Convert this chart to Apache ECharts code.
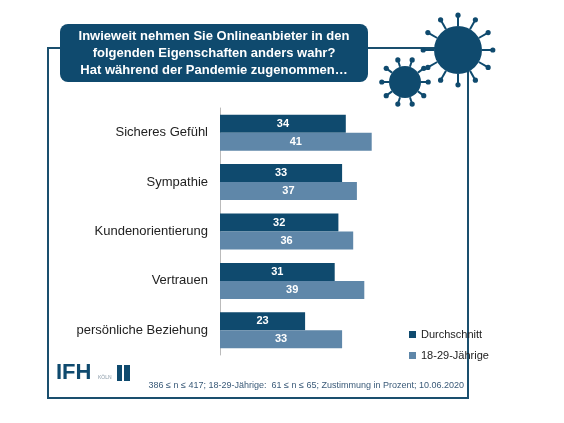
<!DOCTYPE html>
<html>
<head>
<meta charset="utf-8">
<script src="https://cdn.jsdelivr.net/npm/echarts@6/dist/echarts.min.js"></script>
<style>html,body{margin:0;background:#fff}#c{width:564px;height:423px}</style>
</head>
<body>
<div id="c"></div>
<script>
// Kategorien und Werte
const categories = ['Sicheres Gefühl', 'Sympathie', 'Kundenorientierung', 'Vertrauen', 'persönliche Beziehung']
const durchschnitt = [34, 33, 32, 31, 23]
const jung = [41, 37, 36, 39, 33]

const dark = '#0f4a6e', light = '#5f87a9'

// Virus-Deko
function virus(cx, cy, r, n) {
  let els = []
  for (let i = 0; i < n; i++) {
    let a = (i / n) * Math.PI * 2
    let x1 = cx + Math.cos(a) * r, y1 = cy + Math.sin(a) * r
    let x2 = cx + Math.cos(a) * (r * 1.45), y2 = cy + Math.sin(a) * (r * 1.45)
    els.push({ type: 'line', shape: { x1, y1, x2, y2 }, style: { stroke: dark, lineWidth: 2 } })
    els.push({ type: 'circle', shape: { cx: x2, cy: y2, r: 2.6 }, style: { fill: dark } })
  }
  els.push({ type: 'circle', shape: { cx, cy, r }, style: { fill: dark } })
  return els
}

const chart = echarts.init(document.getElementById('c'))
chart.setOption({
  animation: false,
  graphic: [
    { type: 'rect', shape: { x: 48, y: 48, width: 420, height: 350 }, style: { fill: 'none', stroke: '#1a4f6e', lineWidth: 2 } },
    { type: 'rect', shape: { x: 60, y: 24, width: 308, height: 58, r: 8 }, style: { fill: dark } },
    { type: 'text', x: 214, y: 53, style: { text: 'Inwieweit nehmen Sie Onlineanbieter in den\nfolgenden Eigenschaften anders wahr?\nHat während der Pandemie zugenommen…', fill: '#fff', font: 'bold 13px Arial', align: 'center', verticalAlign: 'middle', lineHeight: 17 } },
    ...virus(458, 50, 24, 12),
    ...virus(405, 82, 16, 10),
    { type: 'text', x: 56, y: 373, style: { text: 'IFH', fill: dark, font: 'bold 22px Arial', verticalAlign: 'middle' } },
    { type: 'text', x: 98, y: 378, style: { text: 'KÖLN', fill: '#8a9aa8', font: '5px Arial', verticalAlign: 'middle' } },
    { type: 'rect', shape: { x: 117, y: 365, width: 5, height: 16 }, style: { fill: dark } },
    { type: 'rect', shape: { x: 124, y: 365, width: 6, height: 16 }, style: { fill: dark } },
    { type: 'text', x: 464, y: 386, style: { text: '386 ≤ n ≤ 417; 18-29-Jährige:  61 ≤ n ≤ 65; Zustimmung in Prozent; 10.06.2020', fill: '#3a5a78', font: '9px Arial', align: 'right', verticalAlign: 'middle' } }
  ],
  legend: {
    orient: 'vertical', left: 404, top: 324, itemWidth: 7, itemHeight: 7, itemGap: 10, icon: 'rect',
    textStyle: { fontFamily: 'Arial', fontSize: 11, color: '#222' },
    data: ['Durchschnitt', '18-29-Jährige']
  },
  grid: { left: 220, top: 108, width: 222, height: 247 },
  xAxis: { type: 'value', min: 0, max: 60, show: false },
  yAxis: {
    type: 'category', inverse: true, data: categories,
    axisTick: { show: false },
    axisLine: { lineStyle: { color: '#bbb' } },
    axisLabel: { fontFamily: 'Arial', fontSize: 13, color: '#222', margin: 12 }
  },
  series: [
    { name: 'Durchschnitt', type: 'bar', data: durchschnitt, barWidth: 18, barGap: '0%', itemStyle: { color: dark },
      label: { show: true, position: 'inside', color: '#fff', fontFamily: 'Arial', fontWeight: 'bold', fontSize: 11 } },
    { name: '18-29-Jährige', type: 'bar', data: jung, barWidth: 18, itemStyle: { color: light },
      label: { show: true, position: 'inside', color: '#fff', fontFamily: 'Arial', fontWeight: 'bold', fontSize: 11 } }
  ]
})
</script>
</body>
</html>
